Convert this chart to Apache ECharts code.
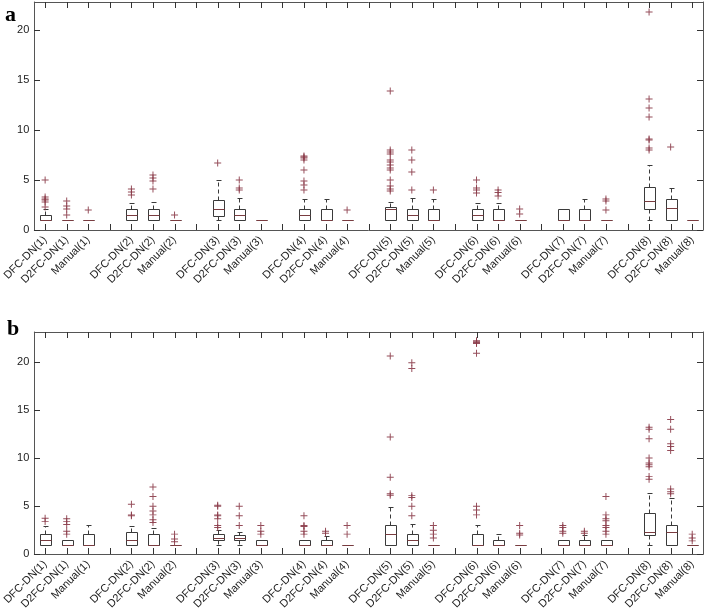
<!DOCTYPE html>
<html>
<head>
<meta charset="utf-8">
<script src="https://cdn.jsdelivr.net/npm/echarts@6/dist/echarts.min.js"></script>
<style>
html,body{margin:0;padding:0;background:#fff;}
#c{width:705px;height:612px;}
</style>
</head>
<body>
<div id="c"></div>
<script>
// ---------- data ----------
const categories = [
  'DFC-DN(1)','D2FC-DN(1)','Manual(1)','',
  'DFC-DN(2)','D2FC-DN(2)','Manual(2)','',
  'DFC-DN(3)','D2FC-DN(3)','Manual(3)','',
  'DFC-DN(4)','D2FC-DN(4)','Manual(4)','',
  'DFC-DN(5)','D2FC-DN(5)','Manual(5)','',
  'DFC-DN(6)','D2FC-DN(6)','Manual(6)','',
  'DFC-DN(7)','D2FC-DN(7)','Manual(7)','',
  'DFC-DN(8)','D2FC-DN(8)','Manual(8)'
];
const yTicks = [0, 5, 10, 15, 20];

// panel a: [lower whisker, q1, median, q3, upper whisker]
const boxA = [
  [1.0,1.0,1.0,1.5,2.1], [1,1,1,1,1], [1,1,1,1,1], null,
  [1.0,1.0,1.5,2.07,2.7], [1.0,1.0,1.5,2.07,2.85], [1,1,1,1,1], null,
  [1.0,1.45,2.1,3.0,5.0], [1.0,1.0,1.5,2.07,3.2], [1,1,1,1,1], null,
  [1.0,1.0,1.5,2.07,3.07], [1,1,1,2.07,3.07], [1,1,1,1,1], null,
  [1.0,1.0,2.1,2.27,2.85], [1,1,1.5,2.07,3.2], [1,1,1,2.07,3.07], null,
  [1,1,1.5,2.07,2.7], [1,1,1,2.07,2.7], [1,1,1,1,1], null,
  [1,1,1,2.07,2.07], [1,1,1,2.07,3.07], [1,1,1,1,1], null,
  [1.0,2.07,2.9,4.27,6.5], [1.0,1.0,2.23,3.07,4.17], [1,1,1,1,1]
];
const outA = [
  [5.0,3.3,3.1,3.0,2.8,2.3], [2.9,2.4,2.1,1.5], [2.0], [],
  [4.1,3.8,3.5], [5.5,5.2,4.9,4.1], [1.5], [],
  [6.7], [5.0,4.2,4.0], [], [],
  [7.4,7.3,7.2,7.0,6.0,4.9,4.5,4.0], [], [2.0], [],
  [13.9,8.0,7.8,7.6,7.0,6.8,6.5,6.2,6.0,5.0,4.4,4.1,3.9], [8.0,7.0,5.8,4.0], [4.0], [],
  [5.0,4.2,4.0,3.7], [4.0,3.75,3.4], [2.1,1.6], [],
  [], [], [3.1,2.9,2.0], [],
  [21.8,13.1,12.2,11.3,9.1,9.0,8.2,8.0], [8.3], []
];

// panel b
const boxB = [
  [1.0,1.0,1.5,2.1,2.9], [1,1,1,1.5,1.5], [1,1,1,2.1,3.0], null,
  [1,1,1.5,2.3,2.95], [1,1,1,2.1,2.7], [1,1,1,1,1], null,
  [1.0,1.5,1.75,2.1,2.5], [1.0,1.5,1.75,2.05,2.3], [1,1,1,1.5,1.5], null,
  [1,1,1,1.5,1.5], [1,1,1,1.5,1.9], [1,1,1,1,1], null,
  [1,1,2.1,3.05,4.9], [1,1,1.5,2.1,3.2], [1,1,1,1,1], null,
  [1,1,1,2.1,3.0], [1,1,1,1.5,2.1], [1,1,1,1,1], null,
  [1,1,1,1.5,1.5], [1,1,1,1.5,2.0], [1,1,1,1.5,1.5], null,
  [1.0,2.05,2.3,4.3,6.4], [1.0,1.0,2.27,3.0,5.9], [1,1,1,1,1]
];
const outB = [
  [3.75,3.4], [3.7,3.4,3.1,2.4,2.1], [], [],
  [5.2,4.1,4.0], [7.0,6.0,5.0,4.5,4.1,3.6,3.3], [2.1,1.6,1.3], [],
  [5.1,5.0,4.1,4.0,3.7,3.0,2.8], [5.0,4.0,3.0], [3.0,2.4,2.1], [],
  [4.0,3.0,2.9,2.4,2.1], [2.4,2.2], [3.0,2.1], [],
  [20.6,12.2,8.0,6.3,6.15], [19.9,19.3,6.1,5.9,5.0,4.0], [3.0,2.5,2.1,1.7], [],
  [22.2,22.1,22.0,21.9,20.9,5.0,4.6,4.1], [], [3.0,2.2,2.0], [],
  [3.0,2.8,2.4,2.2], [2.4,2.2], [6.0,4.1,3.7,3.5,3.0,2.8,2.4,2.1], [],
  [13.2,13.0,12.0,10.0,9.5,9.3,9.1,8.1,7.8], [14.0,13.0,11.5,11.2,10.8,6.8,6.5,6.3], [2.1,1.7,1.4]
];

// ---------- styles ----------
const BOX_COLOR = '#3a3a3a';
const MED_COLOR = '#7a3c40';
const OUT_COLOR = '#8a3a48';
const AXIS_COLOR = '#555';
const TICK_COLOR = '#333';
const TICK_LEN = 6;
const FONT = 'Liberation Sans, Arial, sans-serif';

function toBoxData(stats) {
  const d = [];
  stats.forEach((s, i) => { if (s) d.push([i].concat(s)); });
  return d;
}
function toOutData(outs) {
  const d = [];
  outs.forEach((arr, i) => arr.forEach(v => d.push([i, v])));
  return d;
}

function crisp(v) { return Math.round(v) + 0.5; }

function renderBox(params, api) {
  const x = api.value(0);
  const lo = api.coord([x, api.value(1)]);
  const q1 = api.coord([x, api.value(2)]);
  const md = api.coord([x, api.value(3)]);
  const q3 = api.coord([x, api.value(4)]);
  const hi = api.coord([x, api.value(5)]);
  const bw = api.size([1, 0])[0] * 0.5;
  const cw = bw * 0.5;
  const cx = Math.round(q1[0]) + 0.5;
  const L = Math.round(cx - bw / 2) + 0.5, R = Math.round(cx + bw / 2) + 0.5;
  const cl = Math.round(cx - cw / 2) + 0.5, cr = Math.round(cx + cw / 2) + 0.5;
  const yq1 = crisp(q1[1]), yq3 = crisp(q3[1]), ymd = crisp(md[1]);
  const yhi = crisp(hi[1]), ylo = crisp(lo[1]);
  const stroke = {stroke: BOX_COLOR, lineWidth: 1, fill: null};
  const dashed = {stroke: BOX_COLOR, lineWidth: 1, lineDash: [4, 3], fill: null};
  const children = [];
  if (yhi < yq3 - 0.5) {
    children.push({type: 'line', shape: {x1: cx, y1: yq3, x2: cx, y2: yhi}, style: dashed});
    children.push({type: 'line', shape: {x1: cl, y1: yhi, x2: cr, y2: yhi}, style: stroke});
  }
  if (ylo > yq1 + 0.5) {
    children.push({type: 'line', shape: {x1: cx, y1: yq1, x2: cx, y2: ylo}, style: dashed});
    children.push({type: 'line', shape: {x1: cl, y1: ylo, x2: cr, y2: ylo}, style: stroke});
  }
  if (yq1 - yq3 >= 1) {
    children.push({type: 'rect', shape: {x: L, y: yq3, width: R - L, height: yq1 - yq3}, style: stroke});
  } else {
    children.push({type: 'line', shape: {x1: L, y1: yq1, x2: R, y2: yq1}, style: stroke});
  }
  children.push({type: 'line', shape: {x1: L, y1: ymd, x2: R, y2: ymd},
    style: {stroke: MED_COLOR, lineWidth: 1}});
  return {type: 'group', children: children};
}

// inward ticks on all four sides (MATLAB box style), placed by the axes' scales
function renderXTick(params, api) {
  const p = api.coord([api.value(0), 0]);
  const cs = params.coordSys;
  const x = Math.round(p[0]) + 0.5;
  const yb = Math.round(cs.y + cs.height), yt = Math.round(cs.y);
  const st = {stroke: TICK_COLOR, lineWidth: 1};
  return {type: 'group', children: [
    {type: 'line', shape: {x1: x, y1: yb, x2: x, y2: yb - TICK_LEN}, style: st},
    {type: 'line', shape: {x1: x, y1: yt, x2: x, y2: yt + TICK_LEN}, style: st}
  ]};
}
function renderYTick(params, api) {
  const p = api.coord([0, api.value(1)]);
  const cs = params.coordSys;
  const y = Math.round(p[1]) + 0.5;
  const xl = Math.round(cs.x), xr = Math.round(cs.x + cs.width);
  const st = {stroke: TICK_COLOR, lineWidth: 1};
  return {type: 'group', children: [
    {type: 'line', shape: {x1: xl, y1: y, x2: xl + TICK_LEN, y2: y}, style: st},
    {type: 'line', shape: {x1: xr, y1: y, x2: xr - TICK_LEN, y2: y}, style: st}
  ]};
}

const PLUS = 'path://M0,4.3H10V5.7H0Z M4.3,0H5.7V10H4.3Z';

function xAxes(gridIndex) {
  const line = {show: true, onZero: false, lineStyle: {color: AXIS_COLOR, width: 1}};
  return [
    {
      type: 'category', gridIndex: gridIndex, data: categories, position: 'bottom',
      axisLine: line,
      axisTick: {show: false},
      axisLabel: {interval: 0, rotate: 45, fontSize: 11, color: '#222',
        fontFamily: FONT, margin: 8},
      splitLine: {show: false}
    },
    {
      type: 'category', gridIndex: gridIndex, data: categories, position: 'top',
      axisLine: line,
      axisTick: {show: false},
      axisLabel: {show: false},
      splitLine: {show: false}
    }
  ];
}
function yAxes(gridIndex, max) {
  const common = {
    type: 'value', gridIndex: gridIndex, min: 0, max: max, interval: 5,
    axisLine: {show: true, onZero: false, lineStyle: {color: AXIS_COLOR, width: 1}},
    axisTick: {show: false},
    splitLine: {show: false}
  };
  return [
    Object.assign({}, common, {position: 'left',
      axisLabel: {fontSize: 11, color: '#222', fontFamily: FONT, margin: 5,
        showMaxLabel: false,
        formatter: v => (yTicks.indexOf(v) >= 0 ? String(v) : '')}}),
    Object.assign({}, common, {position: 'right', axisLabel: {show: false}})
  ];
}

const xTickData = categories.map((c, i) => [i, 0]);
const yTickData = yTicks.map(v => [0, v]);

const chart = echarts.init(document.getElementById('c'), null, {renderer: 'canvas'});
chart.setOption({
  animation: false,
  backgroundColor: '#fff',
  grid: [
    {left: 22, right: 2, top: 2, height: 228},
    {left: 22, right: 2, top: 332, height: 228}
  ],
  xAxis: xAxes(0).concat(xAxes(1)),
  yAxis: yAxes(0, 22.8).concat(yAxes(1, 23.1)),
  graphic: [
    {type: 'text', left: 5, top: 4, style: {text: 'a', fill: '#000',
      font: 'bold 22px "Liberation Serif", "DejaVu Serif", serif'}},
    {type: 'text', left: 7, top: 318, style: {text: 'b', fill: '#000',
      font: 'bold 22px "Liberation Serif", "DejaVu Serif", serif'}}
  ],
  series: [
    {type: 'custom', xAxisIndex: 0, yAxisIndex: 0, renderItem: renderXTick,
      data: xTickData, silent: true, z: 2},
    {type: 'custom', xAxisIndex: 0, yAxisIndex: 0, renderItem: renderYTick,
      data: yTickData, silent: true, z: 2},
    {type: 'custom', xAxisIndex: 0, yAxisIndex: 0, renderItem: renderBox,
      encode: {x: 0, y: [1, 2, 3, 4, 5]}, data: toBoxData(boxA), z: 3},
    {type: 'scatter', xAxisIndex: 0, yAxisIndex: 0, symbol: PLUS, symbolSize: 7,
      itemStyle: {color: OUT_COLOR, opacity: 0.9}, data: toOutData(outA), z: 4},
    {type: 'custom', xAxisIndex: 2, yAxisIndex: 2, renderItem: renderXTick,
      data: xTickData, silent: true, z: 2},
    {type: 'custom', xAxisIndex: 2, yAxisIndex: 2, renderItem: renderYTick,
      data: yTickData, silent: true, z: 2},
    {type: 'custom', xAxisIndex: 2, yAxisIndex: 2, renderItem: renderBox,
      encode: {x: 0, y: [1, 2, 3, 4, 5]}, data: toBoxData(boxB), z: 3},
    {type: 'scatter', xAxisIndex: 2, yAxisIndex: 2, symbol: PLUS, symbolSize: 7,
      itemStyle: {color: OUT_COLOR, opacity: 0.9}, data: toOutData(outB), z: 4}
  ]
});
</script>
</body>
</html>
